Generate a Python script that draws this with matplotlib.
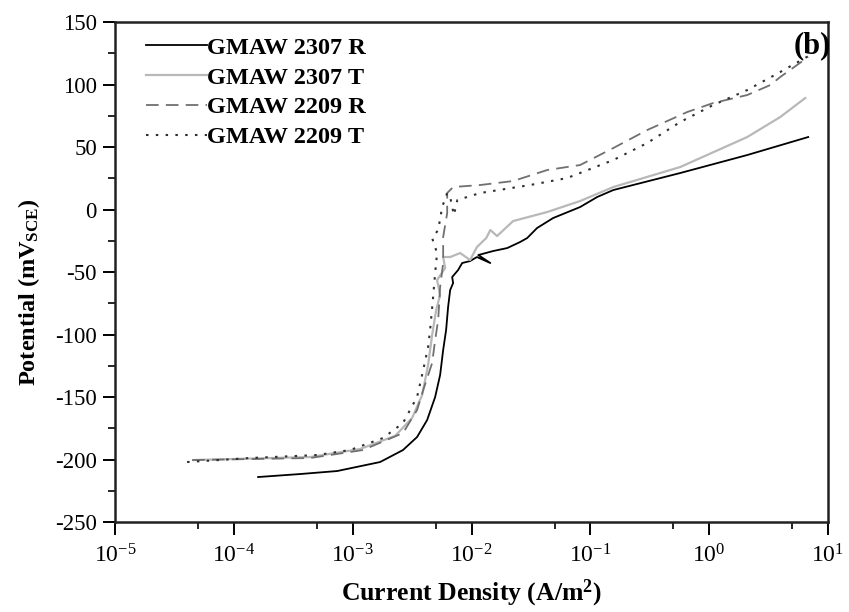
import math
import matplotlib
matplotlib.use('Agg')
import matplotlib.pyplot as plt
from matplotlib.ticker import MultipleLocator, FixedLocator, FuncFormatter, NullFormatter

plt.rcParams['font.family'] = 'Liberation Serif'
plt.rcParams['mathtext.fontset'] = 'custom'
plt.rcParams['mathtext.rm'] = 'Liberation Serif'
plt.rcParams['mathtext.it'] = 'Liberation Serif:italic'
plt.rcParams['mathtext.bf'] = 'Liberation Serif:bold'
plt.rcParams['axes.unicode_minus'] = False

# GMAW 2307 R
i_2307R = [1.60e-4, 3.61e-4, 7.40e-4, 1.70e-3, 2.65e-3, 3.48e-3, 4.23e-3, 4.94e-3,
           5.44e-3, 5.77e-3, 6.11e-3, 6.35e-3, 6.61e-3, 7.00e-3, 6.87e-3, 7.71e-3,
           8.34e-3, 9.73e-3, 1.11e-2, 1.44e-2, 1.14e-2, 1.52e-2, 2.00e-2, 2.56e-2,
           2.94e-2, 3.56e-2, 4.86e-2, 8.20e-2, 0.114, 0.156, 0.570, 2.09, 6.81]
E_2307R = [-214, -211.6, -209.2, -202, -192.4, -182, -168.4, -150,
           -132.4, -112.4, -96.4, -78, -64.4, -58.8, -54, -48.4,
           -42.8, -41.2, -38, -42.8, -36.4, -33.2, -30.8, -26,
           -22.8, -14.8, -6.8, 2, 10, 15.6, 29.2, 43.6, 58]

# GMAW 2307 T
i_2307T = [4.6e-5, 4.38e-4, 1.15e-3, 2.28e-3, 3.16e-3, 3.84e-3, 4.31e-3, 4.66e-3,
           5.04e-3, 5.44e-3, 5.13e-3, 6.00e-3, 5.77e-3, 6.61e-3, 8.02e-3, 9.73e-3,
           1.11e-2, 1.33e-2, 1.44e-2, 1.64e-2, 2.24e-2, 4.33e-2, 8.20e-2, 0.156,
           0.570, 2.09, 3.96, 6.43]
E_2307T = [-200.4, -198, -191.6, -181, -166.8, -148.4, -124.4, -100.4,
           -80.4, -68.4, -56.4, -46.8, -38, -38, -34.8, -40.4,
           -30, -22.8, -16.4, -21.2, -9.2, -2, 6.8, 18,
           34, 58, 74, 89.2]

# GMAW 2209 R
i_2209R = [4.45e-5, 4.38e-4, 1.22e-3, 2.65e-3, 3.48e-3, 3.92e-3, 4.66e-3, 4.94e-3,
           5.24e-3, 5.44e-3, 5.77e-3, 5.77e-3, 6.24e-3, 6.24e-3, 7.00e-3, 1.18e-2,
           2.24e-2, 4.33e-2, 8.20e-2, 0.156, 0.301, 0.653, 1.08, 2.09,
           3.27, 3.96, 6.81]
E_2209R = [-200.4, -198.8, -192.4, -178.8, -160.4, -144.4, -122.8, -104.4,
           -88.4, -62, -42.8, -22, -2.8, 13.2, 18, 19.6,
           22.8, 31.6, 35.6, 49.2, 63.6, 78, 85.2, 91.6,
           99.6, 106, 122]

# GMAW 2209 T
i_2209T = [4.04e-5, 1.37e-4, 5.01e-4, 9.51e-4, 1.80e-3, 2.65e-3, 3.48e-3, 3.92e-3,
           4.31e-3, 4.48e-3, 4.75e-3, 4.94e-3, 5.13e-3, 4.66e-3, 5.24e-3, 5.66e-3,
           6.24e-3, 6.61e-3, 7.10e-3, 7.60e-3, 1.18e-2, 3.11e-2, 6.38e-2, 0.156,
           0.301, 0.570, 1.08, 2.09, 3.96, 7.08]
E_2209T = [-202, -198.8, -196.4, -192.4, -182.8, -170.8, -150, -128.4,
           -110, -96.4, -70, -50.8, -34.8, -22.8, -16.4, 2,
           13.2, 10, -4.4, 7.6, 13.2, 19.6, 25.2, 39.6,
           53.2, 70, 83.6, 95.6, 110, 123.6]

x_major = [1e-5, 1e-4, 1e-3, 1e-2, 1e-1, 1e0, 1e1]
x_minor = [5e-5, 5e-4, 5e-3, 5e-2, 5e-1, 5e0]

fig = plt.figure(figsize=(8.49, 6.12), dpi=100)
ax = fig.add_axes([0.1355, 0.147, 0.8398, 0.817])

ax.plot(i_2307R, E_2307R, color='black', lw=1.3, label='GMAW 2307 R')
ax.plot(i_2307T, E_2307T, color='#b8b8b8', lw=1.6, label='GMAW 2307 T')
ax.plot(i_2209R, E_2209R, color='#707070', lw=1.3, dashes=(7, 4), label='GMAW 2209 R')
ax.plot(i_2209T, E_2209T, color='#303030', lw=1.5, dashes=(1.2, 3.5), label='GMAW 2209 T')

ax.set_xscale('log')
ax.set_xlim(1e-5, 10)
ax.set_ylim(-250, 150)
ax.xaxis.set_major_locator(FixedLocator(x_major))
ax.xaxis.set_minor_locator(FixedLocator(x_minor))
ax.xaxis.set_major_formatter(FuncFormatter(lambda v, p: r'$\mathregular{10^{%d}}$' % round(math.log10(v))))
ax.xaxis.set_minor_formatter(NullFormatter())
ax.yaxis.set_major_locator(MultipleLocator(50))
ax.yaxis.set_minor_locator(MultipleLocator(25))
ax.tick_params(which='major', direction='out', length=9, width=1.4,
               top=False, right=False)
ax.tick_params(which='minor', direction='out', length=5, width=1.2,
               top=False, right=False)
ax.tick_params(axis='x', which='major', pad=7, labelsize=17)
ax.tick_params(axis='y', which='major', pad=4, labelsize=16.5)
for sp in ax.spines.values():
    sp.set_linewidth(1.8)
    sp.set_color('#222222')

ax.set_xlabel(r'Current Density (A/m$^{\mathbf{2}}$)', fontsize=18.5, fontweight='bold')
ax.set_ylabel(r'Potential (mV$_{\mathbf{SCE}}$)', fontsize=17.5, fontweight='bold')
ax.xaxis.set_label_coords(0.5, -0.112)
ax.yaxis.set_label_coords(-0.103, 0.46)

ax.legend(loc='upper left', bbox_to_anchor=(0.03, 0.99), frameon=False,
          prop={'size': 17.5, 'weight': 'bold'}, handlelength=2.5, handletextpad=0.0,
          labelspacing=0.32, borderaxespad=0.0)

ax.text(1.004, 0.952, '(b)', transform=ax.transAxes, ha='right', va='center',
        fontsize=22, fontweight='bold')

fig.savefig('out.png', dpi=100)
